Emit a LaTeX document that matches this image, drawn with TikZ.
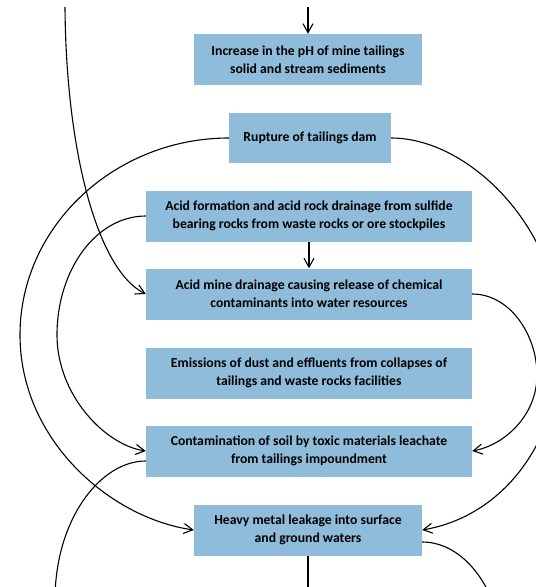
\documentclass[tikz,border=0pt]{standalone}
\usepackage{fontspec}
\setmainfont{Carlito}
\usetikzlibrary{arrows.meta}
\definecolor{boxblue}{RGB}{142,188,218}
\begin{document}
\begin{tikzpicture}[x=1pt,y=-1pt,
  box/.style={fill=boxblue, draw=none, align=center, font=\bfseries\fontsize{13.7}{18}\selectfont, inner sep=0pt, minimum height=51pt},
  conn/.style={line width=1.1pt, -{Straight Barb[length=9pt,width=10pt]}},
  plain/.style={line width=1.1pt}]
\clip (0,0) rectangle (536,587);
\fill[white] (0,0) rectangle (536,587);
\node[box, minimum width=228pt] (ph) at (308,59.5) {Increase in the pH of mine tailings\\solid and stream sediments};
\node[box, minimum width=162pt, minimum height=50pt] (rup) at (310,138) {Rupture of tailings dam};
\node[box, minimum width=326pt] (acf) at (309,216) {Acid formation and acid rock drainage from sulfide\\bearing rocks from waste rocks or ore stockpiles};
\node[box, minimum width=326pt] (amd) at (309,294) {Acid mine drainage causing release of chemical\\contaminants into water resources};
\node[box, minimum width=326pt] (emi) at (309,373) {Emissions of dust and effluents from collapses of\\tailings and waste rocks facilities};
\node[box, minimum width=326pt] (con) at (309,451) {Contamination of soil by toxic materials leachate\\from tailings impoundment};
\node[box, minimum width=228pt] (hml) at (308,530) {Heavy metal leakage into surface\\and ground waters};
\coordinate (topin) at (308,7);
\coordinate (topleft) at (65,7);
\coordinate (botmid) at (308,600);
\coordinate (botleft) at (55,600);
\coordinate (botright) at (492,600);
\draw[conn] (topin) -- (ph.north);
\draw[conn] (acf.south) -- (amd.north);
\draw[plain] (hml.south) -- (botmid);
% left side
\draw[conn] (topleft) .. controls (66,150) and (97,270) .. (amd.west);
\draw[conn] (rup.west) .. controls (115,138) and (20,226) .. (20,335) .. controls (20,440) and (110,518) .. (hml.west);
\draw[conn] (acf.west) .. controls (96,216) and (57,270) .. (57,335) .. controls (57,395) and (105,445) .. (con.west);
\draw[plain] ([yshift=-10pt]con.west) .. controls (100,461) and (55,520) .. (botleft);
% right side
\draw[conn] (amd.east) .. controls (510,294) and (537,335) .. (537,375) .. controls (537,415) and (505,445) .. (con.east);
\draw[conn] (rup.east) .. controls (470,138) and (560,230) .. (560,335) .. controls (565,430) and (510,515) .. (hml.east);
\draw[plain] ([yshift=-12pt]hml.east) .. controls (455,542) and (480,570) .. (botright);
\end{tikzpicture}
\end{document}
